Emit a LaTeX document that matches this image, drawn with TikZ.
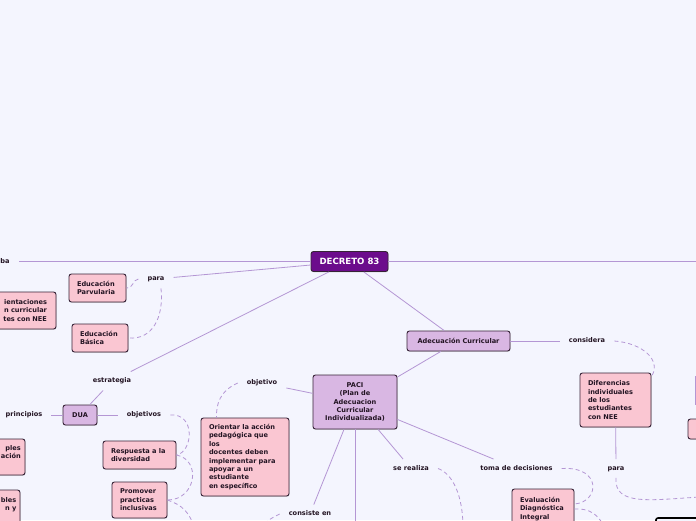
\documentclass[tikz,border=0pt]{standalone}
\usepackage{fontspec}
\newfontfamily\mmfont{DejaVu Sans}
\usetikzlibrary{shadows}
\definecolor{bg}{RGB}{244,245,254}
\definecolor{linec}{RGB}{180,150,212}
\definecolor{pinkf}{RGB}{250,198,210}
\definecolor{lavf}{RGB}{217,183,227}
\definecolor{decf}{RGB}{108,12,140}
\definecolor{bordc}{RGB}{55,35,55}
\definecolor{txtc}{RGB}{35,20,35}
\begin{document}
\begin{tikzpicture}[x=1pt,y=-1pt,
 every node/.style={font=\mmfont\bfseries\fontsize{6.6}{8.4}\selectfont, text=txtc},
 lbl/.style={inner xsep=9pt, inner ysep=6pt, text height=5pt, text depth=1.5pt},
 boxbase/.style={draw=bordc, line width=0.9pt, rounded corners=2.5pt, drop shadow={shadow xshift=0.5pt, shadow yshift=-0.8pt, opacity=0.3}},
 pbox/.style={boxbase, fill=pinkf, align=left, inner xsep=8pt},
 lbox/.style={boxbase, fill=lavf, align=center, inner sep=0pt},
 conn/.style={draw=linec, line width=0.8pt},
 dconn/.style={conn, dash pattern=on 4pt off 3pt},
]
\useasboundingbox (0,0) rectangle (696,520);
\clip (0,0) rectangle (696,520);
\fill[bg] (0,0) rectangle (696,520);

% main boxes
\node[boxbase, fill=decf, text=white, font=\mmfont\bfseries\fontsize{8.6}{10}\selectfont, minimum width=77pt, minimum height=20pt, inner sep=0pt] (dec) at (349.5,261.5) {DECRETO 83};
\node[lbox, minimum width=103pt, minimum height=20pt] (ac) at (458.5,341) {Adecuación Curricular};
\node[lbox, minimum width=34pt, minimum height=20pt] (dua) at (80,415) {DUA};
\node[lbox, minimum width=84pt, minimum height=54pt] (paci) at (355,402) {PACI\\(Plan de\\Adecuacion\\Curricular\\Individualizada)};

% pink boxes
\node[pbox, text width=41pt, minimum height=28pt] (parv) at (97.5,288) {Educación\\Parvularia};
\node[pbox, text width=40pt, minimum height=28pt] (basica) at (100,338) {Educación\\Básica};
\node[pbox, align=right, text width=63pt, inner xsep=9pt, minimum height=37pt] (orient0) at (15.5,310.5) {ientaciones\\n~curricular\\tes~con~NEE};
\node[pbox, text width=57pt, minimum height=28pt] (resp) at (139.5,455) {Respuesta~a~la\\diversidad};
\node[pbox, text width=39pt, minimum height=36pt] (prom) at (139.5,500) {Promover\\practicas\\inclusivas};
\node[pbox, text width=72pt, minimum height=78pt] (orient) at (245,457) {Orientar~la~acción\\pedagógica~que\\los\\docentes~deben\\implementar~para\\apoyar~a~un\\estudiante\\en~específico};
\node[pbox, text width=55pt, minimum height=54pt] (difer) at (615.5,400) {Diferencias\\individuales\\de los\\estudiantes\\con NEE};
\node[pbox, text width=46pt, minimum height=40pt] (evalu) at (543,509) {Evaluación\\Diagnóstica\\Integral};

% partial boxes on the edges
\node[pbox, minimum width=50pt, minimum height=36pt] (lboxa) at (0,457) {};
\node[align=right, anchor=north west, inner sep=0pt] (lboxat) at (0.8,445) {ples\\ación};
\node[pbox, minimum width=45pt, minimum height=40pt] (lboxb) at (-2.5,510) {};
\node[align=right, anchor=north west, inner sep=0pt] (lboxbt) at (0.8,497) {bles\\n y};
\node[pbox, minimum width=32pt, minimum height=20pt] (rbox) at (704,429) {};
\node[draw=black, fill=bg, line width=1.6pt, minimum width=70pt, minimum height=24pt, rounded corners=2pt] (bbox) at (691,530) {};

% labels
\node[lbl] (ba) at (5,261.5) {ba};
\node[lbl] (para1) at (156,279) {para};
\node[lbl] (estr) at (112,381) {estrategia};
\node[lbl] (princ) at (24,415) {principios};
\node[lbl] (objs) at (144,415) {objetivos};
\node[lbl] (cons) at (587,341) {considera};
\node[lbl] (objv) at (262,383) {objetivo};
\node[lbl] (consen) at (310,514) {consiste en};
\node[lbl] (serea) at (411,468.5) {se realiza};
\node[lbl] (toma) at (516.5,468.5) {toma de decisiones};
\node[lbl] (para2) at (616,468.5) {para};

% free ends
\coordinate (rightend) at (700,261.5);
\coordinate (pacidown) at (355,530);
\coordinate (promdown) at (195,530);
\coordinate (seredown) at (463,528);
\coordinate (evaldown) at (604,526);
\coordinate (consdown) at (262,526);
\coordinate (para2end) at (700,497);
\coordinate (rlineA) at (695.5,376);
\coordinate (rlineB) at (695.5,405);

% solid connectors
\draw[conn] (dec) -- (ba);
\draw[conn] (dec) -- (rightend);
\draw[conn] (dec) -- (para1);
\draw[conn] (dec) -- (estr);
\draw[conn] (dec) -- (ac);
\draw[conn] (estr) -- (dua);
\draw[conn] (dua) -- (princ);
\draw[conn] (dua) -- (objs);
\draw[conn] (ac) -- (cons);
\draw[conn] (ac) -- (paci);
\draw[conn] (paci) -- (objv);
\draw[conn] (paci) -- (consen);
\draw[conn] (paci.south) -- (pacidown);
\draw[conn] (paci) -- (serea);
\draw[conn] (paci) -- (toma);
\draw[conn] (difer) -- (para2);
\draw[conn] (rlineA) -- (rlineB);

% dashed connectors
\draw[dconn] (para1.west) .. controls (132,280) and (134,288) .. (parv.east);
\draw[dconn] ([xshift=5pt]para1.south) .. controls (164,318) and (152,340) .. (basica.east);
\draw[dconn] (objs.east) .. controls (196,413) and (193,452) .. (resp.east);
\draw[dconn] (resp.east) .. controls (202,460) and (196,500) .. (prom.east);
\draw[dconn] (prom.east) .. controls (182,505) and (190,512) .. (promdown);
\draw[dconn] (objv.west) .. controls (220,391) and (216,404) .. ([xshift=16pt]orient.north west);
\draw[dconn] (cons.east) .. controls (642,343) and (662,360) .. ([yshift=-4pt]difer.north east);
\draw[dconn] (para2.south) .. controls (614,506) and (650,500) .. (para2end);
\draw[dconn] (serea.east) .. controls (453,474) and (463,496) .. (seredown);
\draw[dconn] (toma.east) .. controls (602,466) and (600,502) .. ([yshift=5pt]evalu.east);
\draw[dconn] (evalu.east) .. controls (590,508) and (598,515) .. (evaldown);
\draw[dconn] (consen.west) .. controls (276,516) and (270,518) .. (consdown);
\end{tikzpicture}
\end{document}
